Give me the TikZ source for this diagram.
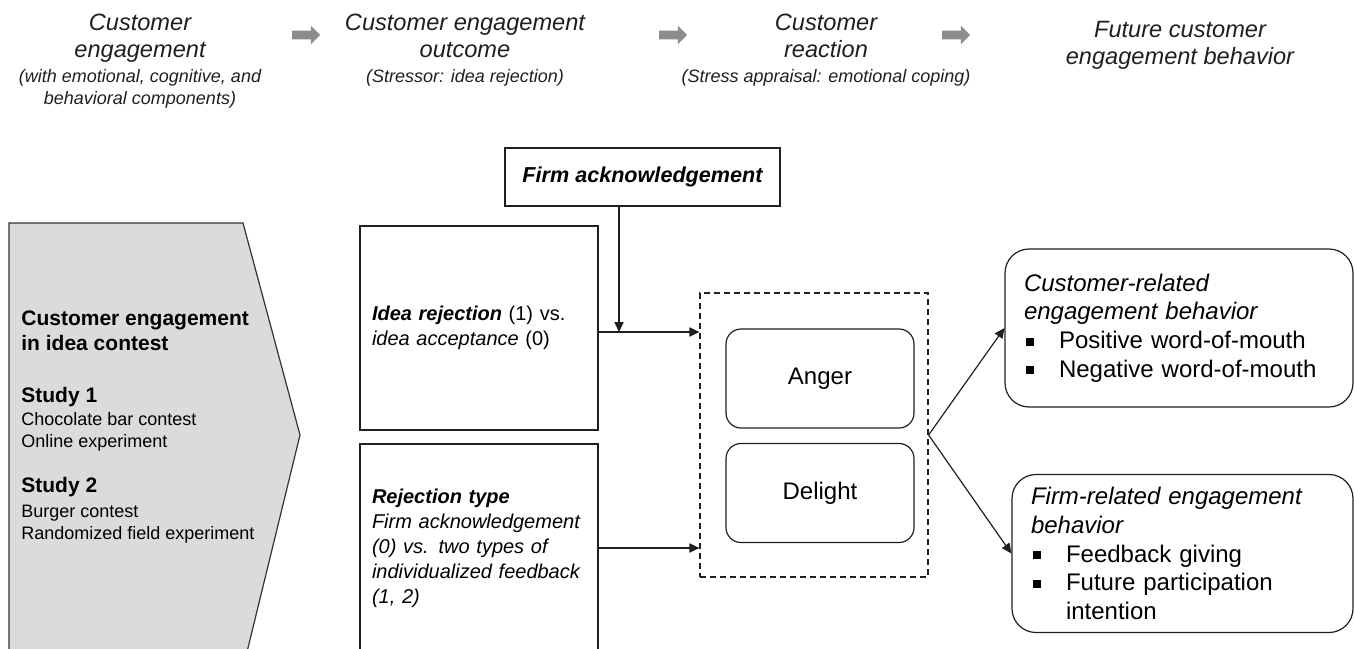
\documentclass[tikz,border=0pt]{standalone}
\usepackage{fontspec}
\setmainfont{Liberation Sans}
\usetikzlibrary{shapes}
\usetikzlibrary{arrows.meta}

\newcommand{\subfont}{\fontsize{9}{11}\selectfont}
\newcommand{\sqitem}[1]{\makebox[17.5pt][l]{\hspace{1pt}\rule[0.12em]{4pt}{4pt}}#1}

\begin{document}
\begin{tikzpicture}[x=0.5pt,y=-0.5pt]
\tikzstyle{line}=[draw=black!88, line width=0.6pt]
\tikzstyle{arrow}=[line, -{Triangle[length=5pt,width=4.6pt]}]

% Define the phase style for the header texts
\tikzstyle{phase}=[align=center, anchor=north, inner sep=0pt, text=black!88, font=\fontsize{11.8}{13.5}\selectfont\itshape]
\tikzstyle{stage}=[single arrow, fill=black!45, draw=none, minimum height=14pt, single arrow head extend=2.5pt, inner sep=2pt]

% Define the box style for the input boxes
\tikzstyle{box}=[rectangle, line, align=left, inner xsep=6pt, text width=107pt, minimum width=119pt, font=\fontsize{10}{12.5}\selectfont]

% Define the emotion style for the rounded boxes
\tikzstyle{emotion}=[rectangle, rounded corners=7.5pt, line, minimum width=94pt, minimum height=49.5pt, font=\fontsize{12}{14}\selectfont]
\tikzstyle{outcome}=[rectangle, rounded corners=12pt, line, align=left, inner xsep=9.5pt, minimum height=79pt, font=\fontsize{12}{14.3}\selectfont]

\useasboundingbox (0,0) rectangle (1354,648);

% define the header
\node (h1) [phase] at (140,14) {Customer\\engagement\\[-1pt]{\subfont (with emotional, cognitive, and}\\[-2.5pt]{\subfont behavioral components)}};
\node (h2) [phase] at (465,14) {Customer engagement\\outcome\\[-1pt]{\subfont (Stressor: idea rejection)}};
\node (h3) [phase] at (826,14) {Customer\\reaction\\[-1pt]{\subfont (Stress appraisal: emotional coping)}};
\node (h4) [phase] at (1180,21) {Future customer\\engagement behavior};
\node (a1) [stage] at (304,35) {};
\node (a2) [stage] at (671,35) {};
\node (a3) [stage] at (954,35) {};

% define the study panel
\path[fill=black!14, draw=black!80, line width=0.6pt] (9,223) -- (243,223) -- (300,435) -- (247,652) -- (9,652) -- cycle;
\node (study) [anchor=north west, align=left, inner sep=0pt, font=\fontsize{9}{11}\selectfont] at (21,310)
  {\fontsize{10.5}{12.5}\selectfont\bfseries Customer engagement\\[1.5pt]
   \fontsize{10.5}{12.5}\selectfont\bfseries in idea contest\\[15pt]
   \fontsize{10.5}{12.5}\selectfont\bfseries Study 1\\[0.5pt]
   Chocolate bar contest\\
   Online experiment\\[11.5pt]
   \fontsize{10.5}{12.5}\selectfont\bfseries Study 2\\[1.5pt]
   Burger contest\\
   Randomized field experiment};

% define the nodes in the model
\node (ack) [rectangle, line, minimum width=137.5pt, minimum height=29pt, font=\fontsize{10.8}{13}\selectfont\bfseries\itshape] at (642.5,177) {Firm acknowledgement};
\node (rej) [box, minimum height=102pt] at (479,328) {\textbf{\textit{Idea rejection}} (1) vs.\\\textit{idea acceptance} (0)};
\node (rtype) [box, minimum height=104pt] at (479,548) {\textbf{\textit{Rejection type}}\\\itshape Firm acknowledgement\\(0) vs. two types of\\individualized feedback\\(1, 2)};
\node (emo) [rectangle, line, dashed, dash pattern=on 3pt off 2pt, minimum width=114pt, minimum height=142pt] at (814,435) {};
\node (anger) [emotion] at (820,378.5) {Anger};
\node (delight) [emotion] at (820,493) {Delight};
\node (cust) [outcome, minimum width=174pt, text width=155pt] at (1179,328)
  {\textit{Customer-related}\\\textit{engagement behavior}\\\sqitem{Positive word-of-mouth}\\\sqitem{Negative word-of-mouth}};
\node (firm) [outcome, minimum width=170.5pt, text width=151.5pt] at (1182.5,553.5)
  {\textit{Firm-related engagement}\\\textit{behavior}\\\sqitem{Feedback giving}\\\sqitem{Future participation}\\\hspace*{17.5pt}intention};
\coordinate (join) at (619,332);

% define the arrows between the nodes
\draw[arrow] (join -| rej.east) -- (join -| emo.west);
\draw[arrow] (ack.south -| join) -- (join);
\draw[arrow] (rtype.east) -- (rtype.east -| emo.west);
\draw[arrow] (emo.east) -- (cust.west);
\draw[arrow] (emo.east) -- (firm.west);

\end{tikzpicture}
\end{document}
